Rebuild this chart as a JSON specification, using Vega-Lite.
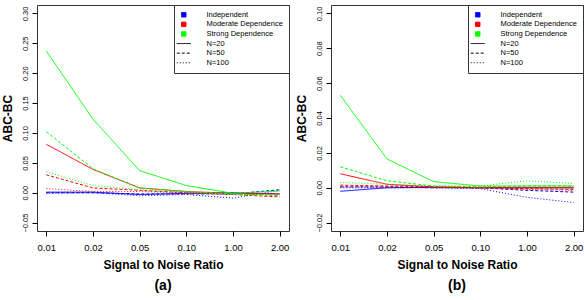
{
 "$schema": "https://vega.github.io/schema/vega-lite/v6.json",
 "padding": {"top": 4, "left": 0, "right": 0, "bottom": 0},
 "spacing": 4,
 "config": {
  "view": {"stroke": "#333", "strokeWidth": 1},
  "font": "Liberation Sans",
  "axis": {"grid": false, "domain": false, "tickColor": "#000", "tickSize": 5, "labelColor": "#000", "titleColor": "#000", "labelFont": "Liberation Sans", "titleFont": "Liberation Sans", "titleFontWeight": "bold", "titleFontSize": 12},
  "axisX": {"labelFontSize": 9.5, "labelPadding": 6, "labelAngle": 0, "titlePadding": 8},
  "axisY": {"labelFontSize": 7.5, "labelAngle": -90, "labelPadding": 3, "titlePadding": 7},
  "title": {"fontSize": 14, "fontWeight": "bold", "font": "Liberation Sans", "color": "#000", "orient": "bottom", "offset": 8}
 },
 "data": {"values": [
  {"panel":"a","snr":"0.01","dependence":"Independent","N":"N=20","value":0.001},
  {"panel":"a","snr":"0.02","dependence":"Independent","N":"N=20","value":0.001},
  {"panel":"a","snr":"0.05","dependence":"Independent","N":"N=20","value":-0.003},
  {"panel":"a","snr":"0.10","dependence":"Independent","N":"N=20","value":-0.001},
  {"panel":"a","snr":"1.00","dependence":"Independent","N":"N=20","value":0.000},
  {"panel":"a","snr":"2.00","dependence":"Independent","N":"N=20","value":-0.002},
  {"panel":"a","snr":"0.01","dependence":"Independent","N":"N=50","value":0.000},
  {"panel":"a","snr":"0.02","dependence":"Independent","N":"N=50","value":0.000},
  {"panel":"a","snr":"0.05","dependence":"Independent","N":"N=50","value":-0.002},
  {"panel":"a","snr":"0.10","dependence":"Independent","N":"N=50","value":-0.002},
  {"panel":"a","snr":"1.00","dependence":"Independent","N":"N=50","value":-0.002},
  {"panel":"a","snr":"2.00","dependence":"Independent","N":"N=50","value":0.005},
  {"panel":"a","snr":"0.01","dependence":"Independent","N":"N=100","value":-0.001},
  {"panel":"a","snr":"0.02","dependence":"Independent","N":"N=100","value":0.000},
  {"panel":"a","snr":"0.05","dependence":"Independent","N":"N=100","value":-0.005},
  {"panel":"a","snr":"0.10","dependence":"Independent","N":"N=100","value":-0.003},
  {"panel":"a","snr":"1.00","dependence":"Independent","N":"N=100","value":-0.009},
  {"panel":"a","snr":"2.00","dependence":"Independent","N":"N=100","value":0.004},
  {"panel":"a","snr":"0.01","dependence":"Moderate Dependence","N":"N=20","value":0.081},
  {"panel":"a","snr":"0.02","dependence":"Moderate Dependence","N":"N=20","value":0.039},
  {"panel":"a","snr":"0.05","dependence":"Moderate Dependence","N":"N=20","value":0.008},
  {"panel":"a","snr":"0.10","dependence":"Moderate Dependence","N":"N=20","value":0.002},
  {"panel":"a","snr":"1.00","dependence":"Moderate Dependence","N":"N=20","value":-0.001},
  {"panel":"a","snr":"2.00","dependence":"Moderate Dependence","N":"N=20","value":-0.002},
  {"panel":"a","snr":"0.01","dependence":"Moderate Dependence","N":"N=50","value":0.030},
  {"panel":"a","snr":"0.02","dependence":"Moderate Dependence","N":"N=50","value":0.008},
  {"panel":"a","snr":"0.05","dependence":"Moderate Dependence","N":"N=50","value":0.004},
  {"panel":"a","snr":"0.10","dependence":"Moderate Dependence","N":"N=50","value":0.000},
  {"panel":"a","snr":"1.00","dependence":"Moderate Dependence","N":"N=50","value":-0.003},
  {"panel":"a","snr":"2.00","dependence":"Moderate Dependence","N":"N=50","value":-0.007},
  {"panel":"a","snr":"0.01","dependence":"Moderate Dependence","N":"N=100","value":0.007},
  {"panel":"a","snr":"0.02","dependence":"Moderate Dependence","N":"N=100","value":0.002},
  {"panel":"a","snr":"0.05","dependence":"Moderate Dependence","N":"N=100","value":0.002},
  {"panel":"a","snr":"0.10","dependence":"Moderate Dependence","N":"N=100","value":0.000},
  {"panel":"a","snr":"1.00","dependence":"Moderate Dependence","N":"N=100","value":-0.002},
  {"panel":"a","snr":"2.00","dependence":"Moderate Dependence","N":"N=100","value":-0.004},
  {"panel":"a","snr":"0.01","dependence":"Strong Dependence","N":"N=20","value":0.237},
  {"panel":"a","snr":"0.02","dependence":"Strong Dependence","N":"N=20","value":0.123},
  {"panel":"a","snr":"0.05","dependence":"Strong Dependence","N":"N=20","value":0.037},
  {"panel":"a","snr":"0.10","dependence":"Strong Dependence","N":"N=20","value":0.012},
  {"panel":"a","snr":"1.00","dependence":"Strong Dependence","N":"N=20","value":-0.001},
  {"panel":"a","snr":"2.00","dependence":"Strong Dependence","N":"N=20","value":0.003},
  {"panel":"a","snr":"0.01","dependence":"Strong Dependence","N":"N=50","value":0.102},
  {"panel":"a","snr":"0.02","dependence":"Strong Dependence","N":"N=50","value":0.040},
  {"panel":"a","snr":"0.05","dependence":"Strong Dependence","N":"N=50","value":0.008},
  {"panel":"a","snr":"0.10","dependence":"Strong Dependence","N":"N=50","value":0.002},
  {"panel":"a","snr":"1.00","dependence":"Strong Dependence","N":"N=50","value":-0.002},
  {"panel":"a","snr":"2.00","dependence":"Strong Dependence","N":"N=50","value":-0.005},
  {"panel":"a","snr":"0.01","dependence":"Strong Dependence","N":"N=100","value":0.035},
  {"panel":"a","snr":"0.02","dependence":"Strong Dependence","N":"N=100","value":0.012},
  {"panel":"a","snr":"0.05","dependence":"Strong Dependence","N":"N=100","value":0.005},
  {"panel":"a","snr":"0.10","dependence":"Strong Dependence","N":"N=100","value":0.001},
  {"panel":"a","snr":"1.00","dependence":"Strong Dependence","N":"N=100","value":-0.003},
  {"panel":"a","snr":"2.00","dependence":"Strong Dependence","N":"N=100","value":-0.003},
  {"panel":"b","snr":"0.01","dependence":"Independent","N":"N=20","value":-0.002},
  {"panel":"b","snr":"0.02","dependence":"Independent","N":"N=20","value":0.000},
  {"panel":"b","snr":"0.05","dependence":"Independent","N":"N=20","value":0.0002},
  {"panel":"b","snr":"0.10","dependence":"Independent","N":"N=20","value":0.000},
  {"panel":"b","snr":"1.00","dependence":"Independent","N":"N=20","value":0.000},
  {"panel":"b","snr":"2.00","dependence":"Independent","N":"N=20","value":0.000},
  {"panel":"b","snr":"0.01","dependence":"Independent","N":"N=50","value":0.0005},
  {"panel":"b","snr":"0.02","dependence":"Independent","N":"N=50","value":0.0005},
  {"panel":"b","snr":"0.05","dependence":"Independent","N":"N=50","value":0.000},
  {"panel":"b","snr":"0.10","dependence":"Independent","N":"N=50","value":0.000},
  {"panel":"b","snr":"1.00","dependence":"Independent","N":"N=50","value":-0.0015},
  {"panel":"b","snr":"2.00","dependence":"Independent","N":"N=50","value":-0.0025},
  {"panel":"b","snr":"0.01","dependence":"Independent","N":"N=100","value":0.000},
  {"panel":"b","snr":"0.02","dependence":"Independent","N":"N=100","value":0.000},
  {"panel":"b","snr":"0.05","dependence":"Independent","N":"N=100","value":0.000},
  {"panel":"b","snr":"0.10","dependence":"Independent","N":"N=100","value":-0.0005},
  {"panel":"b","snr":"1.00","dependence":"Independent","N":"N=100","value":-0.0055},
  {"panel":"b","snr":"2.00","dependence":"Independent","N":"N=100","value":-0.0085},
  {"panel":"b","snr":"0.01","dependence":"Moderate Dependence","N":"N=20","value":0.008},
  {"panel":"b","snr":"0.02","dependence":"Moderate Dependence","N":"N=20","value":0.002},
  {"panel":"b","snr":"0.05","dependence":"Moderate Dependence","N":"N=20","value":0.0005},
  {"panel":"b","snr":"0.10","dependence":"Moderate Dependence","N":"N=20","value":0.000},
  {"panel":"b","snr":"1.00","dependence":"Moderate Dependence","N":"N=20","value":0.000},
  {"panel":"b","snr":"2.00","dependence":"Moderate Dependence","N":"N=20","value":0.000},
  {"panel":"b","snr":"0.01","dependence":"Moderate Dependence","N":"N=50","value":0.0015},
  {"panel":"b","snr":"0.02","dependence":"Moderate Dependence","N":"N=50","value":0.001},
  {"panel":"b","snr":"0.05","dependence":"Moderate Dependence","N":"N=50","value":0.0005},
  {"panel":"b","snr":"0.10","dependence":"Moderate Dependence","N":"N=50","value":0.000},
  {"panel":"b","snr":"1.00","dependence":"Moderate Dependence","N":"N=50","value":-0.0005},
  {"panel":"b","snr":"2.00","dependence":"Moderate Dependence","N":"N=50","value":-0.001},
  {"panel":"b","snr":"0.01","dependence":"Moderate Dependence","N":"N=100","value":0.0005},
  {"panel":"b","snr":"0.02","dependence":"Moderate Dependence","N":"N=100","value":0.0005},
  {"panel":"b","snr":"0.05","dependence":"Moderate Dependence","N":"N=100","value":0.000},
  {"panel":"b","snr":"0.10","dependence":"Moderate Dependence","N":"N=100","value":0.000},
  {"panel":"b","snr":"1.00","dependence":"Moderate Dependence","N":"N=100","value":-0.001},
  {"panel":"b","snr":"2.00","dependence":"Moderate Dependence","N":"N=100","value":-0.0015},
  {"panel":"b","snr":"0.01","dependence":"Strong Dependence","N":"N=20","value":0.053},
  {"panel":"b","snr":"0.02","dependence":"Strong Dependence","N":"N=20","value":0.0165},
  {"panel":"b","snr":"0.05","dependence":"Strong Dependence","N":"N=20","value":0.0035},
  {"panel":"b","snr":"0.10","dependence":"Strong Dependence","N":"N=20","value":0.001},
  {"panel":"b","snr":"1.00","dependence":"Strong Dependence","N":"N=20","value":0.001},
  {"panel":"b","snr":"2.00","dependence":"Strong Dependence","N":"N=20","value":0.001},
  {"panel":"b","snr":"0.01","dependence":"Strong Dependence","N":"N=50","value":0.012},
  {"panel":"b","snr":"0.02","dependence":"Strong Dependence","N":"N=50","value":0.004},
  {"panel":"b","snr":"0.05","dependence":"Strong Dependence","N":"N=50","value":0.001},
  {"panel":"b","snr":"0.10","dependence":"Strong Dependence","N":"N=50","value":0.0005},
  {"panel":"b","snr":"1.00","dependence":"Strong Dependence","N":"N=50","value":0.001},
  {"panel":"b","snr":"2.00","dependence":"Strong Dependence","N":"N=50","value":0.001},
  {"panel":"b","snr":"0.01","dependence":"Strong Dependence","N":"N=100","value":0.003},
  {"panel":"b","snr":"0.02","dependence":"Strong Dependence","N":"N=100","value":0.002},
  {"panel":"b","snr":"0.05","dependence":"Strong Dependence","N":"N=100","value":0.001},
  {"panel":"b","snr":"0.10","dependence":"Strong Dependence","N":"N=100","value":0.001},
  {"panel":"b","snr":"1.00","dependence":"Strong Dependence","N":"N=100","value":0.004},
  {"panel":"b","snr":"2.00","dependence":"Strong Dependence","N":"N=100","value":0.0025}
 ]},
 "resolve": {"scale": {"y": "independent", "color": "independent", "strokeDash": "independent"}, "legend": {"color": "independent", "strokeDash": "independent"}},
 "hconcat": [
  {
   "width": 252, "height": 226,
   "title": {"text": "(a)", "orient": "bottom"},
   "transform": [{"filter": "datum.panel === 'a'"}],
   "mark": {"type": "line", "strokeWidth": 1},
   "encoding": {
    "x": {"field": "snr", "type": "ordinal", "sort": ["0.01","0.02","0.05","0.10","1.00","2.00"], "scale": {"type": "point", "padding": 0.2}, "axis": {"title": "Signal to Noise Ratio"}},
    "y": {"field": "value", "type": "quantitative", "scale": {"domain": [-0.064, 0.314], "nice": false, "zero": false}, "axis": {"title": "ABC-BC", "values": [-0.05, 0, 0.05, 0.1, 0.15, 0.2, 0.25, 0.3], "format": ".2f"}},
    "color": {"field": "dependence", "type": "nominal",
     "scale": {"domain": ["Independent","Moderate Dependence","Strong Dependence","N=20","N=50","N=100"], "range": ["#0000FF","#FF0000","#00FF00","#000000","#000000","#000000"]},
     "legend": {"title": null, "orient": "top-right", "offset": 0, "fillColor": "white", "strokeColor": "#333", "padding": 6, "labelFontSize": 7.5, "labelFont": "Liberation Sans", "labelColor": "#000", "rowPadding": 0.6, "symbolSize": 64, "labelOffset": 19,
      "encode": {"symbols": {"update": {
       "shape": {"signal": "indexof(['N=20','N=50','N=100'], datum.value) >= 0 ? 'stroke' : 'square'"},
       "size": {"signal": "indexof(['N=20','N=50','N=100'], datum.value) >= 0 ? 196 : 20"},
       "fill": {"signal": "datum.value === 'Independent' ? '#0000FF' : datum.value === 'Moderate Dependence' ? '#FF0000' : datum.value === 'Strong Dependence' ? '#00FF00' : 'transparent'"},
       "stroke": {"value": "#000"},
       "strokeWidth": {"value": 1},
       "strokeDash": {"signal": "datum.value === 'N=50' ? [3,2] : datum.value === 'N=100' ? [1,2] : [1,0]"},
       "opacity": {"value": 1}
      }}}}},
    "strokeDash": {"field": "N", "type": "nominal", "scale": {"domain": ["N=20","N=50","N=100"], "range": [[1,0],[3,2],[1,2]]}, "legend": null}
   }
  },
  {
   "width": 252, "height": 226,
   "title": {"text": "(b)", "orient": "bottom"},
   "transform": [{"filter": "datum.panel === 'b'"}],
   "mark": {"type": "line", "strokeWidth": 1},
   "encoding": {
    "x": {"field": "snr", "type": "ordinal", "sort": ["0.01","0.02","0.05","0.10","1.00","2.00"], "scale": {"type": "point", "padding": 0.2}, "axis": {"title": "Signal to Noise Ratio"}},
    "y": {"field": "value", "type": "quantitative", "scale": {"domain": [-0.0248, 0.1048], "nice": false, "zero": false}, "axis": {"title": "ABC-BC", "values": [-0.02, 0, 0.02, 0.04, 0.06, 0.08, 0.1], "format": ".2f"}},
    "color": {"field": "dependence", "type": "nominal",
     "scale": {"domain": ["Independent","Moderate Dependence","Strong Dependence","N=20","N=50","N=100"], "range": ["#0000FF","#FF0000","#00FF00","#000000","#000000","#000000"]},
     "legend": {"title": null, "orient": "top-right", "offset": 0, "fillColor": "white", "strokeColor": "#333", "padding": 6, "labelFontSize": 7.5, "labelFont": "Liberation Sans", "labelColor": "#000", "rowPadding": 0.6, "symbolSize": 64, "labelOffset": 19,
      "encode": {"symbols": {"update": {
       "shape": {"signal": "indexof(['N=20','N=50','N=100'], datum.value) >= 0 ? 'stroke' : 'square'"},
       "size": {"signal": "indexof(['N=20','N=50','N=100'], datum.value) >= 0 ? 196 : 20"},
       "fill": {"signal": "datum.value === 'Independent' ? '#0000FF' : datum.value === 'Moderate Dependence' ? '#FF0000' : datum.value === 'Strong Dependence' ? '#00FF00' : 'transparent'"},
       "stroke": {"value": "#000"},
       "strokeWidth": {"value": 1},
       "strokeDash": {"signal": "datum.value === 'N=50' ? [3,2] : datum.value === 'N=100' ? [1,2] : [1,0]"},
       "opacity": {"value": 1}
      }}}}},
    "strokeDash": {"field": "N", "type": "nominal", "scale": {"domain": ["N=20","N=50","N=100"], "range": [[1,0],[3,2],[1,2]]}, "legend": null}
   }
  }
 ]
}
